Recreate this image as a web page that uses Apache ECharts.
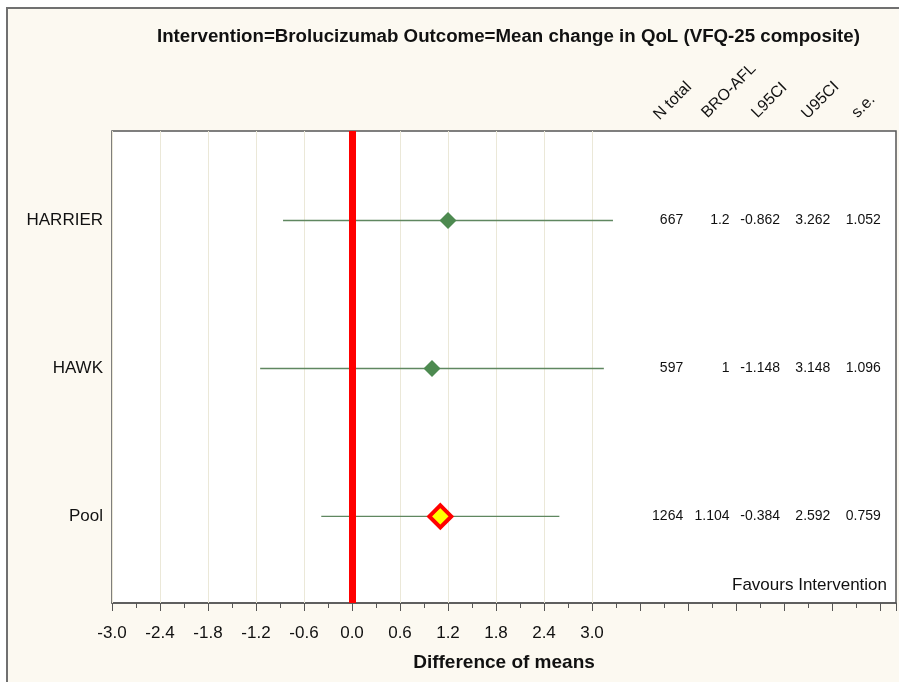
<!DOCTYPE html>
<html><head><meta charset="utf-8">
<script src="https://cdn.jsdelivr.net/npm/echarts@6/dist/echarts.min.js"></script>
<style>html,body{margin:0;padding:0;background:#fff}#chart{width:899px;height:682px}</style>
</head><body><div id="chart"></div>
<script>
// Forest plot: Brolucizumab vs aflibercept, mean change in VFQ-25 composite
const studies = ['HARRIER', 'HAWK', 'Pool'];
const nTotal = [667, 597, 1264];
const meanDiff = [1.2, 1, 1.104];
const lower95 = [-0.862, -1.148, -0.384];
const upper95 = [3.262, 3.148, 2.592];
const stdErr = [1.052, 1.096, 0.759];
const pooledIndex = 2;
const xTickLabels = [-3.0, -2.4, -1.8, -1.2, -0.6, 0.0, 0.6, 1.2, 1.8, 2.4, 3.0];
const columnHeaders = ['N total', 'BRO-AFL', 'L95CI', 'U95CI', 's.e.'];

// layout of the right-hand table (right edges, in axis units) and header anchors (px)
const columnRightEdge = [4.14, 4.72, 5.35, 5.98, 6.61];
const headerAnchor = [[662, 123], [710, 121], [760, 121], [810, 122], [860, 121]];

const FONT = '"Liberation Sans", Arial, sans-serif';
const TEXT = '#111';

const rowPos = studies.map((s, i) => studies.length - i);
const tableColumns = [nTotal, meanDiff, lower95, upper95, stdErr];

const chart = echarts.init(document.getElementById('chart'), null, { renderer: 'canvas' });

const option = {
  backgroundColor: '#ffffff',
  animation: false,
  title: {
    text: 'Intervention=Brolucizumab Outcome=Mean change in QoL (VFQ-25 composite)',
    left: 152, top: 22,
    textStyle: { fontFamily: FONT, fontSize: 18.7, fontWeight: 'bold', color: TEXT }
  },
  graphic: [
    {
      type: 'rect', z: -10, silent: true,
      shape: { x: 7, y: 8, width: 900, height: 700 },
      style: { fill: '#fcf9f1', stroke: '#707070', lineWidth: 2 }
    },
    ...columnHeaders.map((h, j) => ({
      type: 'text', x: headerAnchor[j][0], y: headerAnchor[j][1], rotation: Math.PI / 4, silent: true,
      style: { text: h, x: 0, y: 0, align: 'left', verticalAlign: 'bottom', fill: TEXT, font: '16px ' + FONT }
    })),
    {
      type: 'text', x: 887, y: 585, silent: true, z: 100,
      style: { text: 'Favours Intervention', align: 'right', verticalAlign: 'middle', fill: TEXT, font: '17px ' + FONT }
    }
  ],
  grid: {
    left: 112, top: 131, right: 2, bottom: 79,
    show: true, backgroundColor: '#ffffff', borderColor: '#555555', borderWidth: 1.5
  },
  xAxis: {
    type: 'value', min: -3, max: 6.8, interval: 0.6,
    name: 'Difference of means', nameLocation: 'middle', nameGap: 50,
    nameTextStyle: { fontFamily: FONT, fontSize: 19, fontWeight: 'bold', color: TEXT },
    axisLine: { show: true, onZero: false, lineStyle: { color: '#555555', width: 1.5 } },
    axisTick: { show: true, length: 8, lineStyle: { color: '#555555' } },
    minorTick: { show: true, splitNumber: 2, length: 5, lineStyle: { color: '#555555' } },
    axisLabel: {
      fontFamily: FONT, fontSize: 17, color: TEXT, margin: 22,
      formatter: v => {
        const hit = xTickLabels.find(t => Math.abs(t - v) < 1e-6);
        return hit === undefined ? '' : hit.toFixed(1);
      }
    },
    splitLine: { show: false }
  },
  yAxis: {
    type: 'value', min: 0.415, max: 3.605,
    axisLine: { show: false },
    axisTick: { show: false },
    splitLine: { show: false },
    axisLabel: {
      customValues: rowPos,
      fontFamily: FONT, fontSize: 17, color: TEXT, margin: 9,
      formatter: v => studies[studies.length - Math.round(v)]
    }
  },
  series: [
    {
      // vertical reference grid at the labelled ticks
      type: 'scatter', data: [], z: 1, silent: true,
      markLine: {
        z: 1, silent: true, symbol: 'none', label: { show: false },
        lineStyle: { color: '#ebe8d8', width: 1, type: 'solid' },
        data: xTickLabels.map(v => ({ xAxis: v }))
      }
    },
    {
      // confidence intervals
      type: 'custom', z: 2, silent: true,
      encode: { x: [0, 1], y: 2 },
      data: studies.map((s, i) => [lower95[i], upper95[i], rowPos[i]]),
      renderItem: (params, api) => {
        const a = api.coord([api.value(0), api.value(2)]);
        const b = api.coord([api.value(1), api.value(2)]);
        return {
          type: 'line',
          shape: { x1: a[0], y1: a[1], x2: b[0], y2: b[1] },
          style: { stroke: '#5f8760', lineWidth: 1.3 }
        };
      }
    },
    {
      // line of no effect
      type: 'scatter', data: [], z: 3, silent: true,
      markLine: {
        z: 3, silent: true, symbol: 'none', label: { show: false },
        lineStyle: { color: '#ff0000', width: 7, type: 'solid' },
        data: [{ xAxis: 0 }]
      }
    },
    {
      // individual study estimates
      type: 'scatter', z: 4, symbol: 'diamond', symbolSize: 17,
      itemStyle: { color: '#4d8a50', opacity: 1 },
      data: studies.map((s, i) => [meanDiff[i], rowPos[i]]).filter((d, i) => i !== pooledIndex)
    },
    {
      // pooled estimate
      type: 'scatter', z: 5, symbol: 'diamond', symbolSize: 22,
      itemStyle: { color: '#ffff00', borderColor: '#ff0000', borderWidth: 4, opacity: 1 },
      data: [[meanDiff[pooledIndex], rowPos[pooledIndex]]]
    },
    {
      // right-hand statistics table
      type: 'custom', z: 6, silent: true, clip: false,
      encode: { x: 0, y: 1 },
      data: studies.map((s, i) => [columnRightEdge[0], rowPos[i]]),
      renderItem: (params, api) => {
        const i = params.dataIndex;
        const y = api.coord([0, api.value(1)])[1];
        return {
          type: 'group',
          children: tableColumns.map((col, j) => ({
            type: 'text',
            style: {
              text: String(col[i]),
              x: api.coord([columnRightEdge[j], api.value(1)])[0], y: y,
              align: 'right', verticalAlign: 'middle',
              fill: TEXT, font: '14px ' + FONT
            }
          }))
        };
      }
    }
  ]
};

chart.setOption(option);
</script>
</body></html>
